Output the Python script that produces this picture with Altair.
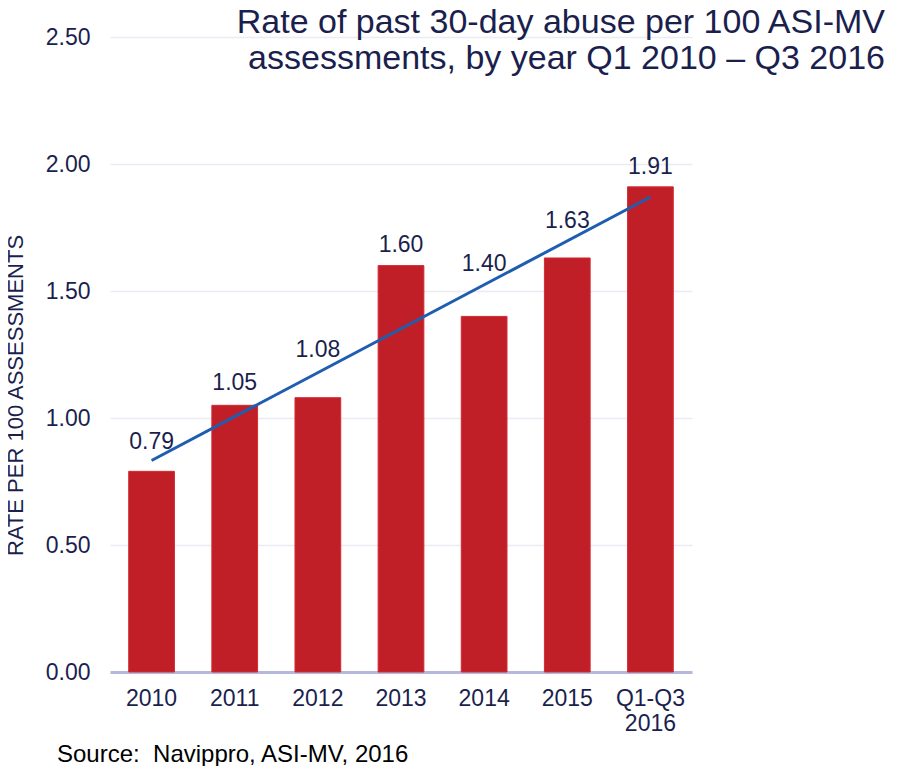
import altair as alt
import pandas as pd

# ---- data ----
categories = ["2010", "2011", "2012", "2013", "2014", "2015", "Q1-Q3 2016"]
rates = [0.79, 1.05, 1.08, 1.60, 1.40, 1.63, 1.91]
y_ticks = [0.0, 0.5, 1.0, 1.5, 2.0, 2.5]
title_lines = ["Rate of past 30-day abuse per 100 ASI-MV",
               "assessments, by year Q1 2010 \u2013 Q3 2016"]
y_title = "RATE PER 100 ASSESSMENTS"
source_note = "Source:\u00a0 Navippro, ASI-MV, 2016"

# ---- style ----
FONT = "Liberation Sans"
NAVY = "#1b1f4e"
RED = "#c01f28"
BLUE = "#1f5db0"
FS = 23
LABEL_DY = [-22, -15, -41, -14, -45, -30, -13]   # label lift above each bar (px)
W, H = 582, 635

df = pd.DataFrame({"cat": categories, "rate": rates, "idx": list(range(len(categories)))})

x_enc = alt.X(
    "cat:N", sort=categories,
    scale=alt.Scale(paddingInner=0.45, paddingOuter=0.225),
    axis=alt.Axis(
        title=None, labelAngle=0, labelFontSize=FS, labelColor=NAVY, labelFont=FONT,
        labelPadding=15, ticks=False, domainColor="#b3b8dc", domainWidth=3,
        labelLineHeight=25,
        labelExpr="datum.value == 'Q1-Q3 2016' ? ['Q1-Q3', '2016'] : datum.label",
    ),
)
y_enc = alt.Y(
    "rate:Q",
    scale=alt.Scale(domain=[0, 2.5], nice=False),
    axis=alt.Axis(
        values=y_ticks, format=".2f", labelFontSize=FS, labelColor=NAVY, labelFont=FONT,
        labelPadding=20, ticks=False, domain=False, gridColor="#ebebf3", gridWidth=1.5,
        title=y_title, titleFontSize=22, titleFontWeight="normal", titleColor=NAVY,
        titleFont=FONT, titleAngle=270, titleX=-95, titleY=358, titleAlign="center",
        titleBaseline="middle",
    ),
)

base = alt.Chart(df)

bars = base.mark_bar(color=RED, stroke="#d42a30", strokeWidth=1).encode(x=x_enc, y=y_enc)

trend = (
    base.transform_regression("idx", "rate")
    .transform_lookup(lookup="idx", from_=alt.LookupData(data=df, key="idx", fields=["cat"]))
    .mark_line(color=BLUE, strokeWidth=3)
    .encode(x=alt.X("cat:N", sort=categories), y=alt.Y("rate:Q"))
)

labels = []
for c, d in zip(categories, LABEL_DY):
    labels.append(
        base.transform_filter(alt.datum.cat == c)
        .mark_text(dy=d, baseline="alphabetic", fontSize=FS, color=NAVY, font=FONT)
        .encode(x=alt.X("cat:N", sort=categories), y=alt.Y("rate:Q"),
                text=alt.Text("rate:Q", format=".2f"))
    )

title = alt.Chart(pd.DataFrame({"k": [0]})).mark_text(
    text=title_lines, align="right", baseline="alphabetic", fontSize=34,
    lineHeight=36, color=NAVY, font=FONT,
).encode(x=alt.value(775), y=alt.value(-4))

source = alt.Chart(pd.DataFrame({"k": [0]})).mark_text(
    text=source_note, align="left", baseline="alphabetic", fontSize=24,
    color="#000000", font=FONT,
).encode(x=alt.value(-53), y=alt.value(725))

chart = (
    alt.layer(bars, trend, *labels, title, source)
    .properties(
        width=W, height=H,
        autosize=alt.AutoSizeParams(type="none"),
        padding={"left": 102, "top": 29, "right": 198, "bottom": 94},
    )
    .configure_view(stroke=None)
)

chart.save("out.html", embed_options={"renderer": "svg", "actions": False})
